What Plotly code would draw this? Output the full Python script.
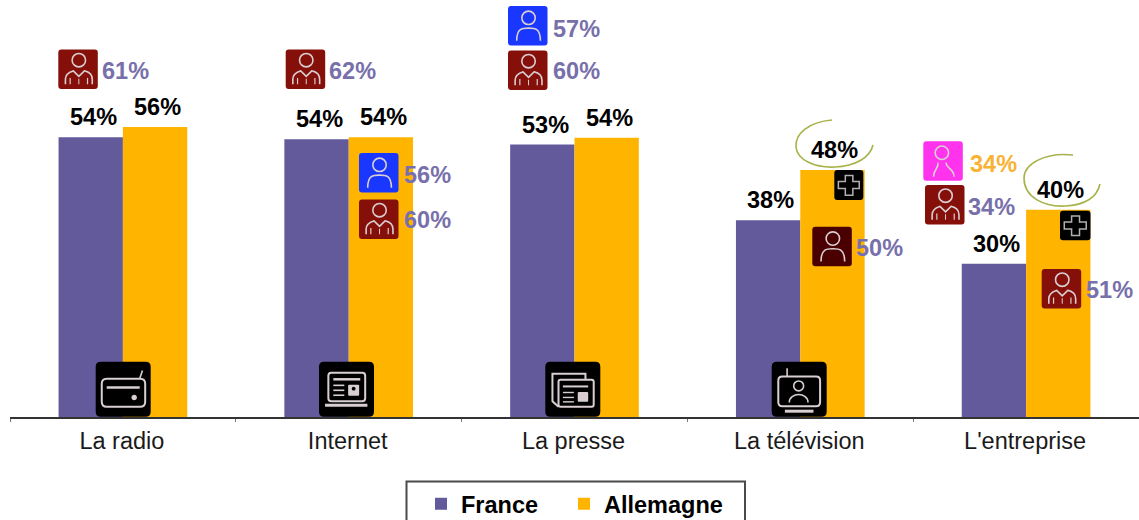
import plotly.graph_objects as go

categories = ["La radio", "Internet", "La presse", "La télévision", "L'entreprise"]
france = [54.0, 53.6, 52.6, 38.0, 29.6]
allemagne = [56.0, 54.0, 53.9, 47.7, 40.0]
france_labels = ["54%", "54%", "53%", "38%", "30%"]
allemagne_labels = ["56%", "54%", "54%", "48%", "40%"]
series_names = ["France", "Allemagne"]

W, H = 1139, 520
ML, MR, MT, MB = 10, 0, 0, 103
FONT = "Liberation Sans, Arial, sans-serif"
PURPLE, ORANGE = "#635a9c", "#ffb400"
TXT = "#7870aa"
LINE = "#d9cfd2"

def px(x):
    return (x - ML) / (W - ML - MR)

def py(y):
    return 1 - (y - MT) / (H - MT - MB)

def path(cmds):
    out = []
    for c in cmds:
        if c == "Z":
            out.append("Z")
        else:
            pts = " ".join(f"{px(c[i]):.5f},{py(c[i + 1]):.5f}" for i in range(1, len(c), 2))
            out.append(c[0] + pts)
    return " ".join(out)

shapes = []

def add(cmds, fill=None, line=None, lw=1.6):
    shapes.append(dict(type="path", xref="paper", yref="paper", path=path(cmds),
                       fillcolor=fill or "rgba(0,0,0,0)",
                       line=dict(color=line or "rgba(0,0,0,0)", width=lw if line else 0)))

def rrect(x0, y0, x1, y1, r):
    return [("M", x0 + r, y0), ("L", x1 - r, y0), ("Q", x1, y0, x1, y0 + r), ("L", x1, y1 - r),
            ("Q", x1, y1, x1 - r, y1), ("L", x0 + r, y1), ("Q", x0, y1, x0, y1 - r), ("L", x0, y0 + r),
            ("Q", x0, y0, x0 + r, y0), "Z"]

def circ(cx, cy, r):
    k = 0.5523 * r
    return [("M", cx + r, cy), ("C", cx + r, cy + k, cx + k, cy + r, cx, cy + r),
            ("C", cx - k, cy + r, cx - r, cy + k, cx - r, cy),
            ("C", cx - r, cy - k, cx - k, cy - r, cx, cy - r),
            ("C", cx + k, cy - r, cx + r, cy - k, cx + r, cy), "Z"]

def rel(x, y, s):
    return lambda u, v: (x + u * s, y + v * s)

def person(x, y, s, color, line=LINE):
    add(rrect(x, y, x + s, y + s, 3), fill=color)
    f = rel(x, y, s)
    add(circ(*f(.52, .30), .17 * s), line=line)
    add([("M", *f(.22, .88)), ("C", *f(.22, .55), *f(.38, .56), *f(.52, .56)),
         ("C", *f(.66, .56), *f(.82, .55), *f(.82, .88))], line=line)

def doctor(x, y, s, color):
    add(rrect(x, y, x + s, y + s, 3), fill=color)
    f = rel(x, y, s)
    add(circ(*f(.52, .27), .17 * s), line=LINE)
    add([("M", *f(.18, .88)), ("L", *f(.18, .75)), ("C", *f(.18, .6), *f(.32, .56), *f(.38, .54)),
         ("L", *f(.52, .68)), ("L", *f(.66, .54)), ("C", *f(.74, .56), *f(.86, .6), *f(.86, .75)),
         ("L", *f(.86, .88))], line=LINE)
    add([("M", *f(.30, .88)), ("L", *f(.30, .72))], line=LINE, lw=1.2)
    add([("M", *f(.74, .88)), ("L", *f(.74, .72))], line=LINE, lw=1.2)
    add([("M", *f(.52, .74)), ("L", *f(.52, .88))], line=LINE, lw=1)

def magenta(x, y, s):
    add(rrect(x, y, x + s, y + s, 3), fill="#ff33ee")
    f = rel(x, y, s)
    add(circ(*f(.47, .29), .17 * s), line=LINE)
    add([("M", *f(.26, .90)), ("C", *f(.26, .70), *f(.40, .68), *f(.37, .54)),
         ("M", *f(.58, .54)), ("C", *f(.56, .68), *f(.78, .68), *f(.78, .90))], line=LINE)

def plus(x, y, w, h):
    add(rrect(x, y, x + w, y + h, 3), fill="#000000")
    u = lambda a, b: (x + a * w, y + b * h)
    pts = [(.38, .18), (.64, .18), (.64, .38), (.86, .38), (.86, .62), (.64, .62), (.64, .84),
           (.38, .84), (.38, .62), (.14, .62), (.14, .38), (.38, .38)]
    add([("M", *u(*pts[0]))] + [("L", *u(*p)) for p in pts[1:]] + ["Z"], line="#b0b0b0", lw=1.5)

def news_lines(f):
    add([("M", *f(.26, .32)), ("L", *f(.75, .32))], line=LINE, lw=2.5)
    for v in (.43, .52, .61):
        add([("M", *f(.26, v)), ("L", *f(.46, v))], line=LINE, lw=1.6)
    add(rrect(*f(.53, .42), *f(.73, .62), 1), fill=LINE)
    add(circ(*f(.63, .49), .035 * 55), fill="#000000")

def radio(x, y, s):
    add(rrect(x, y, x + s, y + s, 5), fill="#000000")
    f = rel(x, y, s)
    add(rrect(*f(.11, .31), *f(.90, .82), 5), line=LINE, lw=2)
    add([("M", *f(.80, .31)), ("L", *f(.85, .16))], line=LINE, lw=1.6)
    add([("M", *f(.20, .47)), ("L", *f(.80, .47))], line=LINE, lw=2.5)
    add(circ(*f(.70, .65), .05 * s), fill=LINE)

def laptop(x, y, s):
    add(rrect(x, y, x + s, y + s, 5), fill="#000000")
    f = rel(x, y, s)
    add(rrect(*f(.17, .20), *f(.84, .72), 3), line=LINE, lw=2)
    add([("M", *f(.11, .79)), ("L", *f(.88, .79))], line=LINE, lw=3)
    news_lines(f)

def press(x, y, s):
    add(rrect(x, y, x + s, y + s, 5), fill="#000000")
    f = rel(x, y, s)
    add([("M", *f(.73, .32)), ("L", *f(.73, .22)), ("L", *f(.13, .22)), ("L", *f(.13, .72)),
         ("L", *f(.24, .82))], line=LINE, lw=2)
    add(rrect(*f(.24, .33), *f(.88, .82), 2), line=LINE, lw=2)
    g = lambda u, v: f(u + .06, v + .13)
    add([("M", *g(.26, .32)), ("L", *g(.72, .32))], line=LINE, lw=2)
    for v in (.43, .52, .60):
        add([("M", *g(.26, v)), ("L", *g(.46, v))], line=LINE, lw=1.4)
    add(rrect(*g(.53, .42), *g(.72, .60), 1), fill=LINE)

def tv(x, y, s):
    add(rrect(x, y, x + s, y + s, 5), fill="#000000")
    f = rel(x, y, s)
    add(rrect(*f(.12, .27), *f(.88, .81), 4), line=LINE, lw=2)
    add([("M", *f(.28, .12)), ("L", *f(.28, .27))], line=LINE, lw=1.6)
    add([("M", *f(.24, .90)), ("L", *f(.76, .90))], line=LINE, lw=3)
    add(circ(*f(.49, .44), .09 * s), line=LINE)
    add([("M", *f(.32, .74)), ("C", *f(.32, .55), *f(.66, .55), *f(.66, .74))], line=LINE)

# Media icons
radio(95.7, 361.7, 55)
laptop(319, 361.7, 55)
press(545.3, 361.7, 55)
tv(771.7, 361.7, 55)

# Respondent badges
RED, BLUE, DARK = "#85100a", "#1a37ff", "#4a0000"
doctor(58.3, 49.5, 39.5, RED)
doctor(285.7, 49.5, 39.5, RED)
person(508, 6, 39.5, BLUE)
doctor(508, 50.5, 39.5, RED)
person(359, 153, 39.5, BLUE)
doctor(359, 199.5, 39.5, RED)
person(812.3, 226.7, 39.5, DARK)
plus(834.3, 170, 29, 30)
magenta(923.3, 141.3, 39.5)
doctor(925, 185, 39.5, RED)
plus(1060, 210.7, 30.5, 29.5)
doctor(1041.7, 269, 39.5, RED)

# Highlight arcs
OLIVE = "#a9b24a"
add([("M", 832, 120), ("C", 808, 122, 795, 134, 796, 147), ("C", 797, 160, 815, 168, 835, 167),
     ("C", 855, 166, 870, 158, 873, 145)], line=OLIVE, lw=1.6)
add([("M", 1073, 155), ("C", 1045, 152, 1024, 164, 1024, 178), ("C", 1024, 198, 1045, 207, 1065, 206),
     ("C", 1085, 205, 1097, 197, 1100, 184)], line=OLIVE, lw=1.6)

# Legend frame, running off the bottom of the page
add([("M", 406.5, 525), ("L", 406.5, 481.5), ("L", 745, 481.5), ("L", 745, 525)], line="#4a4a4a", lw=2)

annotations = []

# Value labels anchored on the bars
for i, c in enumerate(categories):
    annotations.append(dict(x=c, y=france[i], xref="x", yref="y", text=f"<b>{france_labels[i]}</b>", showarrow=False,
                            xshift=-29.5, yshift=20, font=dict(family=FONT, size=23.5, color="#000000")))
    annotations.append(dict(x=c, y=allemagne[i], xref="x", yref="y", text=f"<b>{allemagne_labels[i]}</b>", showarrow=False,
                            xshift=34.5, yshift=20, font=dict(family=FONT, size=23.5, color="#000000")))

# Badge percentages
badge_texts = [("61%", 102, 71, TXT), ("62%", 329, 71, TXT), ("57%", 553, 29, TXT), ("60%", 553, 71, TXT),
               ("56%", 404, 175, TXT), ("60%", 404, 220, TXT), ("50%", 856, 248, TXT),
               ("34%", 970, 164, "#f9b233"), ("34%", 968, 207, TXT), ("51%", 1086, 290, TXT)]
for t, x, y, col in badge_texts:
    annotations.append(dict(x=px(x), y=py(y), xref="paper", yref="paper", xanchor="left", yanchor="middle",
                            text=f"<b>{t}</b>", showarrow=False, xshift=-2,
                            font=dict(family=FONT, size=23.5, color=col)))

fig = go.Figure()
fig.add_bar(name=series_names[0], x=categories, y=france, marker_color=PURPLE, marker_line_width=0, legend="legend")
fig.add_bar(name=series_names[1], x=categories, y=allemagne, marker_color=ORANGE, marker_line_width=0, legend="legend2")

legend_font = dict(family=FONT, size=23.5, color="#000000", weight="bold")

fig.update_layout(
    width=W, height=H,
    margin=dict(l=ML, r=MR, t=MT, b=MB, pad=0, autoexpand=False),
    paper_bgcolor="#ffffff", plot_bgcolor="#ffffff",
    barmode="group", bargap=0.43, bargroupgap=0,
    font=dict(family=FONT, color="#000000"),
    shapes=shapes, annotations=annotations,
    legend=dict(x=px(421), y=py(482), xanchor="left", yanchor="top", bgcolor="rgba(0,0,0,0)", font=legend_font),
    legend2=dict(x=px(564), y=py(482), xanchor="left", yanchor="top", bgcolor="rgba(0,0,0,0)", font=legend_font),
    showlegend=True,
    xaxis=dict(type="category", categoryorder="array", categoryarray=categories, showline=True,
               linecolor="#333333", linewidth=2, ticks="outside", tickson="boundaries", ticklen=3,
               tickcolor="#777777", tickwidth=1, showgrid=False, zeroline=False, ticklabelstandoff=2,
               ticklabelshift=-1,
               tickfont=dict(family=FONT, size=23.5, color="#1a1a1a"), fixedrange=True),
    yaxis=dict(range=[0, 417 / 5.18], visible=False, showgrid=False, zeroline=False, fixedrange=True),
)

fig.write_html("out.html", config=dict(displayModeBar=False),
               post_script="document.body.style.margin='0';document.body.style.overflow='hidden';")
